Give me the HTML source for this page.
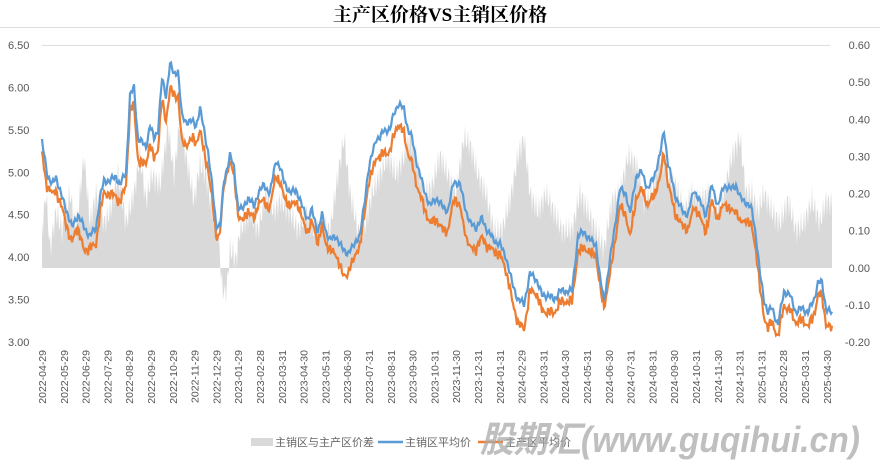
<!DOCTYPE html>
<html><head><meta charset="utf-8"><style>
body{margin:0;background:#fff;}
svg text{font-family:"Liberation Sans","Noto Sans CJK SC",sans-serif;}
</style></head><body>
<svg id="s" width="880" height="466" xmlns="http://www.w3.org/2000/svg">
<text x="440" y="21" text-anchor="middle" font-size="19" font-weight="bold" style="font-family:'Liberation Serif','Noto Serif CJK SC',serif">主产区价格VS主销区价格</text>
<line x1="0" y1="27.5" x2="880" y2="27.5" stroke="#ddd"/>
<line x1="42" y1="45.5" x2="830" y2="45.5" stroke="#ddd"/>
<g id="g"></g>
<g font-size="11" fill="#555" id="ax"></g>
<rect x="251" y="438" width="22" height="8" fill="#d9d9d9"/>
<text x="275" y="446" font-size="11" fill="#666">主销区与主产区价差</text>
<line x1="378" y1="442" x2="403" y2="442" stroke="#5b9bd5" stroke-width="2.5"/>
<text x="405" y="446" font-size="11" fill="#666">主销区平均价</text>
<line x1="478" y1="442" x2="503" y2="442" stroke="#ed7d31" stroke-width="2.5"/>
<text x="505" y="446" font-size="11" fill="#666">主产区平均价</text>
<text x="480" y="452" font-size="36" font-weight="bold" font-style="italic" fill="#aaa" fill-opacity="0.75" textLength="380" lengthAdjust="spacingAndGlyphs">股期汇(www.guqihui.cn)</text>
</svg>
<script>
const B=[[42,5.35],[48,4.95],[52,4.85],[56,4.95],[62,4.7],[68,4.5],[72,4.35],[78,4.5],[84,4.35],[90,4.25],[96,4.35],[100,4.7],[104,4.9],[110,4.9],[116,4.95],[120,4.85],[126,5.0],[130,5.9],[134,6.0],[138,5.4],[142,5.35],[146,5.3],[150,5.55],[154,5.4],[158,5.5],[162,6.1],[166,5.9],[170,6.28],[174,6.15],[178,6.2],[182,5.65],[186,5.6],[192,5.6],[196,5.55],[200,5.75],[204,5.5],[208,5.25],[212,4.85],[216,4.4],[220,4.35],[224,4.9],[230,5.2],[234,5.05],[238,4.6],[242,4.55],[248,4.7],[254,4.6],[258,4.75],[264,4.85],[270,4.75],[276,5.15],[280,5.05],[284,4.9],[290,4.75],[296,4.8],[302,4.6],[308,4.45],[312,4.55],[318,4.3],[322,4.5],[326,4.3],[330,4.2],[336,4.25],[342,4.1],[348,4.05],[352,4.1],[356,4.2],[360,4.25],[364,4.6],[368,5.0],[372,5.2],[376,5.4],[380,5.4],[384,5.5],[390,5.5],[394,5.7],[398,5.8],[404,5.75],[408,5.5],[412,5.4],[418,5.05],[424,4.8],[430,4.6],[436,4.7],[442,4.6],[448,4.55],[454,4.9],[460,4.85],[466,4.55],[470,4.4],[476,4.35],[482,4.45],[488,4.3],[494,4.2],[500,4.15],[506,4.0],[512,3.7],[518,3.5],[524,3.45],[530,3.8],[536,3.75],[542,3.55],[548,3.55],[554,3.5],[560,3.6],[566,3.6],[572,3.6],[578,4.25],[584,4.3],[590,4.2],[596,4.15],[600,3.75],[604,3.5],[608,3.8],[614,4.3],[620,4.8],[626,4.75],[630,4.5],[636,4.95],[642,5.0],[648,4.8],[654,4.95],[660,5.2],[664,5.5],[668,5.1],[672,4.9],[676,4.7],[682,4.55],[688,4.5],[694,4.8],[700,4.65],[706,4.5],[712,4.85],[718,4.6],[724,4.85],[730,4.8],[736,4.85],[740,4.7],[746,4.65],[752,4.55],[756,4.25],[760,3.8],[764,3.5],[768,3.35],[772,3.4],[778,3.2],[784,3.6],[790,3.55],[796,3.35],[802,3.4],[808,3.35],[814,3.5],[818,3.7],[822,3.7],[826,3.4],[832,3.33]];
const G=[[42,0.1],[46,0.2],[50,0.05],[56,0.15],[62,0.1],[70,0.2],[76,0.1],[84,0.3],[90,0.12],[96,0.2],[104,0.12],[110,0.15],[118,0.25],[126,0.12],[134,0.2],[140,0.3],[146,0.18],[152,0.25],[160,0.22],[168,0.38],[174,0.25],[180,0.4],[186,0.3],[194,0.18],[200,0.28],[206,0.25],[212,0.15],[218,0.1],[222,-0.05],[226,-0.08],[230,0.05],[236,0.02],[240,0.1],[250,0.15],[258,0.1],[266,0.2],[274,0.15],[280,0.18],[290,0.15],[298,0.1],[306,0.15],[314,0.1],[322,0.12],[330,0.1],[338,0.25],[344,0.35],[350,0.2],[358,0.1],[364,0.1],[372,0.2],[380,0.25],[388,0.3],[396,0.25],[404,0.3],[410,0.35],[416,0.3],[424,0.2],[432,0.22],[440,0.3],[448,0.25],[456,0.2],[464,0.35],[470,0.33],[478,0.25],[486,0.2],[494,0.1],[502,0.1],[510,0.18],[518,0.3],[524,0.35],[530,0.2],[538,0.15],[546,0.2],[554,0.15],[562,0.1],[572,0.1],[580,0.2],[588,0.15],[596,0.1],[604,0.05],[612,0.18],[620,0.2],[628,0.3],[636,0.28],[644,0.18],[652,0.2],[660,0.3],[668,0.25],[676,0.22],[684,0.15],[692,0.2],[700,0.18],[708,0.2],[716,0.15],[724,0.2],[732,0.3],[740,0.35],[746,0.2],[752,0.2],[758,0.15],[764,0.2],[772,0.15],[780,0.12],[788,0.18],[796,0.1],[804,0.12],[812,0.18],[820,0.12],[826,0.18],[832,0.17]];
function interp(P,x){for(let i=1;i<P.length;i++){if(x<=P[i][0]){const a=P[i-1],b=P[i];return a[1]+(b[1]-a[1])*(x-a[0])/(b[0]-a[0]);}}return P[P.length-1][1];}
const yL=v=>45+(6.5-v)*297/3.5, yR=v=>45+(0.6-v)*297/0.8;
let bp=[],op=[],gp=["42,268"];
for(let x=42;x<=832;x+=1){
 const n=Math.sin(x*1.7)*0.03+Math.sin(x*0.63)*0.02;
 const b=interp(B,x)+n; const g=Math.max(-0.1,interp(G,x)+Math.sin(x*2.3)*0.04);
 const o=b-Math.max(0.05,Math.min(0.3,g*0.75+0.05));
 bp.push(x+","+yL(b).toFixed(1));op.push(x+","+yL(o).toFixed(1));gp.push(x+","+yR(g).toFixed(1));
}
gp.push("832,268");
document.getElementById('g').innerHTML=
 '<polygon points="'+gp.join(' ')+'" fill="#d9d9d9"/>'+
 '<polyline points="'+op.join(' ')+'" fill="none" stroke="#ed7d31" stroke-width="2.2"/>'+
 '<polyline points="'+bp.join(' ')+'" fill="none" stroke="#5b9bd5" stroke-width="2.2"/>';
let h='';
for(let i=0;i<8;i++){const v=6.5-i*0.5;h+='<text x="8" y="'+(yL(v)+4)+'">'+v.toFixed(2)+'</text>';}
for(let i=0;i<9;i++){const v=0.6-i*0.1;h+='<text x="870" text-anchor="end" y="'+(yR(v)+4)+'">'+(Math.abs(v)<1e-9?'0.00':v.toFixed(2))+'</text>';}
const L=["2022-04-29","2022-05-29","2022-06-29","2022-07-29","2022-08-29","2022-09-29","2022-10-29","2022-11-29","2022-12-29","2023-01-29","2023-02-28","2023-03-31","2023-04-30","2023-05-31","2023-06-30","2023-07-31","2023-08-31","2023-09-30","2023-10-31","2023-11-30","2023-12-31","2024-01-31","2024-02-29","2024-03-31","2024-04-30","2024-05-31","2024-06-30","2024-07-31","2024-08-31","2024-09-30","2024-10-31","2024-11-30","2024-12-31","2025-01-31","2025-02-28","2025-03-31","2025-04-30"];
L.forEach((t,i)=>{const x=42+i*21.8+4;h+='<text font-size="10.5" text-anchor="end" transform="translate('+x+',350) rotate(-90)">'+t+'</text>';});
document.getElementById('ax').innerHTML=h;
</script>
</body></html>
